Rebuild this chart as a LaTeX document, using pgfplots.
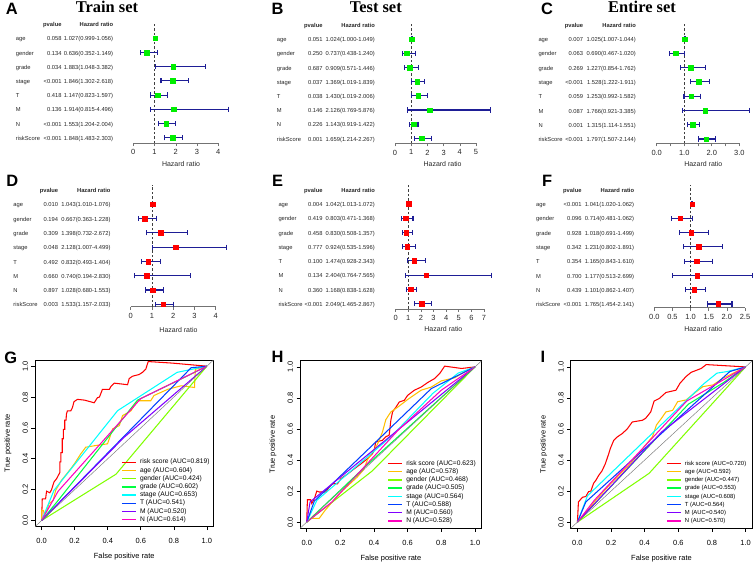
\documentclass[border=0pt]{standalone}
\usepackage{pgfplots}
\usepackage{pgfplotstable}
\pgfplotsset{compat=1.18}
\usepackage{fontspec}
\setmainfont{Liberation Sans}
\newfontfamily\serifbold{Liberation Serif}
\definecolor{rc1}{HTML}{FF0000}
\definecolor{rc2}{HTML}{FFBF00}
\definecolor{rc3}{HTML}{80FF00}
\definecolor{rc4}{HTML}{00FF40}
\definecolor{rc5}{HTML}{00FFFF}
\definecolor{rc6}{HTML}{0040FF}
\definecolor{rc7}{HTML}{8000FF}
\definecolor{rc8}{HTML}{FF00BF}
\definecolor{ciblue}{HTML}{1E1E96}
\definecolor{boxgreen}{HTML}{00EE00}
\definecolor{boxred}{HTML}{FF0000}

\pgfplotsset{
  legend image code/.code={\draw[#1, line width=1.4bp] (0bp,0bp) -- (14bp,0bp);},
  forest/.style={
    scale only axis, anchor=north west, clip=false,
    axis x line*=bottom, axis y line=none,
    x axis line style={-, draw=black!55, line width=0.6bp},
    tick align=outside, major tick length=3bp, minor tick length=3bp,
    tick style={draw=black!55, line width=0.6bp},
    xticklabel style={font=\fontsize{7.5}{8}\selectfont, text=black!85},
    ytick=\empty,
    xlabel={Hazard ratio},
    label style={font=\fontsize{7}{8}\selectfont, text=black!85},
  },
  roc/.style={
    scale only axis, anchor=north west,
    xmin=-0.04, xmax=1.04, ymin=-0.04, ymax=1.04,
    xtick={0,0.2,0.4,0.6,0.8,1}, xticklabels={0.0,0.2,0.4,0.6,0.8,1.0},
    ytick={0,0.2,0.4,0.6,0.8,1}, yticklabels={0.0,0.2,0.4,0.6,0.8,1.0},
    tick align=outside, xtick pos=left, ytick pos=left, major tick length=3.5bp,
    axis line style={line width=0.6bp}, tick style={line width=0.6bp, black},
    ticklabel style={font=\fontsize{7.5}{8}\selectfont},
    xticklabel style={yshift=-5bp},
    yticklabel style={rotate=90, anchor=south},
    xlabel={False positive rate}, ylabel={True positive rate},
    every axis x label/.style={at={(axis description cs:0.5,0)}, yshift=-30bp, anchor=center, font=\fontsize{7.5}{8}\selectfont},
    every axis y label/.style={at={(axis description cs:0,0.5)}, xshift=-27bp, rotate=90, anchor=center, font=\fontsize{7.5}{8}\selectfont},
    legend style={draw=none, fill=none, inner sep=0pt, anchor=north west, font=\fontsize{6.7}{7}\selectfont, nodes={inner sep=0pt, text height=5bp, text depth=1.5bp}, row sep=1.7bp, column sep=3.5bp},
    legend cell align=left,
    every axis plot/.append style={line width=1.05bp},
  },
}
\tikzset{
  tt/.style={font=\fontsize{5.8}{6}\selectfont, text=black!85, inner sep=0pt},
  hdr/.style={font=\fontsize{5.8}{6}\selectfont\bfseries, text=black!85, inner sep=0pt},
  plet/.style={font=\fontsize{16.5}{17}\selectfont\bfseries, inner sep=0pt},
  ptit/.style={font=\serifbold\fontsize{16.5}{17}\selectfont\bfseries, inner sep=0pt},
}
% #1 label left, #2 pvalue right, #3 HR right, #4 y of first row, #5 spacing, #6 list
\newcommand{\ftab}[6]{%
  \node[hdr, anchor=mid east] at ({#2bp},{-(#4-#5)*1bp}) {pvalue};
  \node[hdr, anchor=mid east] at ({#3bp},{-(#4-#5)*1bp}) {Hazard ratio};
  \foreach \lab/\pv/\hr [count=\i from 0] in {#6}{%
    \node[tt, anchor=mid west] at ({#1bp},{-(#4+\i*#5)*1bp}) {\lab};
    \node[tt, anchor=mid east] at ({#2bp},{-(#4+\i*#5)*1bp}) {\pv};
    \node[tt, anchor=mid east] at ({#3bp},{-(#4+\i*#5)*1bp}) {\hr};
  }%
}

\pgfplotstableread{
row hr lo hi
8 1.027 0.999 1.056
7 0.636 0.352 1.149
6 1.883 1.048 3.382
5 1.846 1.302 2.618
4 1.147 0.823 1.597
3 1.914 0.815 4.496
2 1.553 1.204 2.004
1 1.848 1.483 2.303
}\tabA
\pgfplotstableread{
row hr lo hi
8 1.024 1.000 1.049
7 0.737 0.438 1.240
6 0.909 0.571 1.446
5 1.369 1.019 1.839
4 1.430 1.019 2.006
3 2.126 0.769 5.876
2 1.143 0.919 1.422
1 1.659 1.214 2.267
}\tabB
\pgfplotstableread{
row hr lo hi
8 1.025 1.007 1.044
7 0.690 0.467 1.020
6 1.227 0.854 1.762
5 1.528 1.222 1.911
4 1.253 0.992 1.582
3 1.766 0.921 3.385
2 1.315 1.114 1.551
1 1.797 1.507 2.144
}\tabC
\pgfplotstableread{
row hr lo hi
8 1.043 1.010 1.076
7 0.667 0.363 1.228
6 1.398 0.732 2.672
5 2.128 1.007 4.499
4 0.832 0.493 1.404
3 0.740 0.194 2.830
2 1.028 0.680 1.553
1 1.533 1.157 2.033
}\tabD
\pgfplotstableread{
row hr lo hi
8 1.042 1.013 1.072
7 0.803 0.471 1.368
6 0.830 0.508 1.357
5 0.924 0.535 1.596
4 1.474 0.928 2.343
3 2.404 0.764 7.565
2 1.168 0.838 1.628
1 2.049 1.465 2.867
}\tabE
\pgfplotstableread{
row hr lo hi
8 1.041 1.020 1.062
7 0.714 0.481 1.062
6 1.018 0.691 1.499
5 1.231 0.802 1.891
4 1.165 0.843 1.610
3 1.177 0.513 2.699
2 1.101 0.862 1.407
1 1.765 1.454 2.141
}\tabF

\newcommand{\forestplots}[3]{% #1 table, #2 box colour, #3 dashed ymin/ymax
  \addplot[black!75, dash pattern=on 2.5bp off 2bp, line width=0.8bp, forget plot] coordinates {#3};
  \addplot[draw=none, forget plot, error bars/.cd, x dir=both, x explicit,
    error bar style={draw=ciblue, line width=1.1bp},
    error mark options={rotate=90, draw=ciblue, line width=1.1bp, mark size=2.6bp}]
    table[x=hr, y=row, x error plus expr=\thisrow{hi}-\thisrow{hr}, x error minus expr=\thisrow{hr}-\thisrow{lo}] {#1};
  \addplot[only marks, mark=square*, mark size=2.3bp, mark options={draw=#2, fill=#2}] table[x=hr, y=row] {#1};
}

\begin{document}
\begin{tikzpicture}
\path[use as bounding box] (0,0) rectangle (753bp,-562bp);

% ---------- letters and titles ----------
\node[plet] at (11.7bp,-9.2bp) {A};
\node[plet] at (277.5bp,-9.2bp) {B};
\node[plet] at (547bp,-9.2bp) {C};
\node[plet] at (12.2bp,-180.8bp) {D};
\node[plet] at (277.5bp,-180.8bp) {E};
\node[plet] at (547.2bp,-180.8bp) {F};
\node[plet] at (10.8bp,-357.5bp) {G};
\node[plet] at (277.5bp,-356.7bp) {H};
\node[plet] at (543bp,-356.7bp) {I};
\node[ptit] at (107bp,-7.2bp) {Train set};
\node[ptit] at (375.8bp,-7.2bp) {Test set};
\node[ptit] at (642bp,-7.2bp) {Entire set};

% ---------- tables ----------
\ftab{15.7}{61.7}{113.3}{38.3}{14.2}{age/0.058/1.027(0.999-1.056), gender/0.134/0.636(0.352-1.149), grade/0.034/1.883(1.048-3.382), stage/<0.001/1.846(1.302-2.618), T/0.418/1.147(0.823-1.597), M/0.136/1.914(0.815-4.496), N/<0.001/1.553(1.204-2.004), riskScore/<0.001/1.848(1.483-2.303)}
\ftab{276.7}{322.7}{375}{39}{14.2}{age/0.051/1.024(1.000-1.049), gender/0.250/0.737(0.438-1.240), grade/0.687/0.909(0.571-1.446), stage/0.037/1.369(1.019-1.839), T/0.038/1.430(1.019-2.006), M/0.146/2.126(0.769-5.876), N/0.226/1.143(0.919-1.422), riskScore/0.001/1.659(1.214-2.267)}
\ftab{538.3}{583.3}{636}{39}{14.29}{age/0.007/1.025(1.007-1.044), gender/0.063/0.690(0.467-1.020), grade/0.269/1.227(0.854-1.762), stage/<0.001/1.528(1.222-1.911), T/0.059/1.253(0.992-1.582), M/0.087/1.766(0.921-3.385), N/0.001/1.315(1.114-1.551), riskScore/<0.001/1.797(1.507-2.144)}
\ftab{13.3}{58.3}{110.7}{204.3}{14.29}{age/0.010/1.043(1.010-1.076), gender/0.194/0.667(0.363-1.228), grade/0.309/1.398(0.732-2.672), stage/0.048/2.128(1.007-4.499), T/0.492/0.832(0.493-1.404), M/0.660/0.740(0.194-2.830), N/0.897/1.028(0.680-1.553), riskScore/0.003/1.533(1.157-2.033)}
\ftab{278.3}{322.7}{375}{204}{14.24}{age/0.004/1.042(1.013-1.072), gender/0.419/0.803(0.471-1.368), grade/0.458/0.830(0.508-1.357), stage/0.777/0.924(0.535-1.596), T/0.100/1.474(0.928-2.343), M/0.134/2.404(0.764-7.565), N/0.360/1.168(0.838-1.628), riskScore/<0.001/2.049(1.465-2.867)}
\ftab{536}{581.7}{634.3}{204}{14.29}{age/<0.001/1.041(1.020-1.062), gender/0.096/0.714(0.481-1.062), grade/0.928/1.018(0.691-1.499), stage/0.342/1.231(0.802-1.891), T/0.354/1.165(0.843-1.610), M/0.700/1.177(0.513-2.699), N/0.439/1.101(0.862-1.407), riskScore/<0.001/1.765(1.454-2.141)}

% ---------- forest plots ----------
\begin{axis}[forest, at={(133.3bp,-23.25bp)}, width=85bp, height=120bp,
  xmin=0, xmax=4, ymin=0.606, ymax=9.06, xtick={0,1,2,3,4}, xticklabels={0,1,2,3,4},
  xlabel style={at={(axis description cs:0.562,0)}, anchor=center, yshift=-21bp}]
\forestplots{\tabA}{boxgreen}{(1,0.606) (1,9.06)}
\end{axis}
\begin{axis}[forest, at={(395bp,-23.4bp)}, width=81bp, height=119.9bp,
  xmin=0, xmax=5, ymin=0.655, ymax=9.1, xtick={0,1,2,3,4,5}, xticklabels={0,1,2,3,4,5},
  xlabel style={at={(axis description cs:0.588,0)}, anchor=center, yshift=-21bp}]
\forestplots{\tabB}{boxgreen}{(1,0.655) (1,9.1)}
\end{axis}
\begin{axis}[forest, at={(656.7bp,-23.28bp)}, width=82.6bp, height=120.05bp,
  xmin=0, xmax=3, ymin=0.699, ymax=9.1, xtick={0,1,2,3}, xticklabels={0.0,1.0,2.0,3.0},
  minor xtick={0.5,1.5,2.5},
  xlabel style={at={(axis description cs:0.564,0)}, anchor=center, yshift=-21bp}]
\forestplots{\tabC}{boxgreen}{(1,0.699) (1,9.1)}
\end{axis}
\begin{axis}[forest, at={(130.7bp,-185bp)}, width=85bp, height=121.7bp,
  xmin=0, xmax=4, ymin=0.832, ymax=9.35, xtick={0,1,2,3,4}, xticklabels={0,1,2,3,4},
  xlabel style={at={(axis description cs:0.562,0)}, anchor=center, yshift=-23.3bp}]
\forestplots{\tabD}{boxred}{(1,0.832) (1,9.35)}
\end{axis}
\begin{axis}[forest, at={(395.7bp,-183.3bp)}, width=88.3bp, height=125.6bp,
  xmin=0, xmax=7, ymin=0.628, ymax=9.45, xtick={0,1,2,3,4,5,6,7}, xticklabels={0,1,2,3,4,5,6,7},
  xlabel style={at={(axis description cs:0.540,0)}, anchor=center, yshift=-20.3bp}]
\forestplots{\tabE}{boxred}{(1,0.628) (1,9.45)}
\end{axis}
\begin{axis}[forest, at={(654.3bp,-185bp)}, width=90.7bp, height=122.7bp,
  xmin=0, xmax=2.5, ymin=0.741, ymax=9.33, xtick={0,0.5,1,1.5,2,2.5}, xticklabels={0.0,0.5,1.0,1.5,2.0,2.5},
  xlabel style={at={(axis description cs:0.540,0)}, anchor=center, yshift=-21.6bp}]
\forestplots{\tabF}{boxred}{(1,0.741) (1,9.33)}
\end{axis}

% ---------- ROC G ----------
\begin{axis}[roc, at={(35bp,-360bp)}, width=178.5bp, height=166.7bp,
  legend style={at={(axis cs:0.48,0.40)}}]
\addplot[rc1] coordinates {(0,0) (0.004,0.14) (0.024,0.14) (0.03,0.19) (0.05,0.18) (0.06,0.2) (0.075,0.25) (0.09,0.27) (0.1,0.29) (0.11,0.31) (0.11,0.38) (0.116,0.38) (0.116,0.44) (0.125,0.44) (0.125,0.53) (0.132,0.53) (0.132,0.59) (0.14,0.59) (0.14,0.65) (0.148,0.65) (0.15,0.69) (0.156,0.71) (0.176,0.71) (0.186,0.73) (0.196,0.77) (0.217,0.785) (0.26,0.78) (0.318,0.763) (0.338,0.796) (0.35,0.80) (0.368,0.85) (0.41,0.85) (0.42,0.87) (0.44,0.89) (0.52,0.88) (0.53,0.92) (0.55,0.935) (0.59,0.946) (0.61,0.96) (0.63,0.98) (0.645,1.03) (0.79,1.02) (1,1)};
\addlegendentry{risk score (AUC=0.819)}
\addplot[rc2] coordinates {(0,0) (0,0.065) (0.012,0.065) (0.014,0.045) (0.03,0.06) (0.045,0.11) (0.07,0.13) (0.085,0.196) (0.12,0.26) (0.15,0.3) (0.176,0.335) (0.2,0.37) (0.237,0.432) (0.267,0.475) (0.328,0.486) (0.399,0.497) (0.43,0.594) (0.47,0.615) (0.49,0.68) (0.54,0.71) (0.58,0.776) (0.66,0.776) (0.68,0.81) (0.763,0.85) (0.844,0.873) (0.925,0.862) (0.93,0.98) (1,1)};
\addlegendentry{age (AUC=0.604)}
\addplot[rc3] coordinates {(0,0) (0.45,0.30) (1,1)};
\addlegendentry{gender (AUC=0.424)}
\addplot[rc4] coordinates {(0,0) (0.1,0.13) (0.58,0.78) (0.85,0.92) (1,1)};
\addlegendentry{grade (AUC=0.602)}
\addplot[rc5] coordinates {(0,0) (0.075,0.196) (0.46,0.712) (0.82,0.96) (1,1)};
\addlegendentry{stage (AUC=0.653)}
\addplot[rc6] coordinates {(0,0) (0.905,0.99) (1,1)};
\addlegendentry{T (AUC=0.541)}
\addplot[rc7] coordinates {(0,0) (0.5,0.54) (1,1)};
\addlegendentry{M (AUC=0.520)}
\addplot[rc8] coordinates {(0,0) (0.1,0.19) (0.6,0.79) (1,1)};
\addlegendentry{N (AUC=0.614)}
\addplot[forget plot, black!50, line width=0.5bp] coordinates {(-0.04,-0.04) (1.04,1.04)};
\end{axis}

% ---------- ROC H ----------
\begin{axis}[roc, at={(300bp,-360.7bp)}, width=181.7bp, height=167.6bp,
  legend style={at={(axis cs:0.478,0.40)}}]
\addplot[rc1] coordinates {(0,0) (0.004,0.144) (0.024,0.144) (0.03,0.12) (0.045,0.15) (0.06,0.2) (0.074,0.194) (0.114,0.194) (0.13,0.22) (0.153,0.247) (0.183,0.247) (0.203,0.28) (0.243,0.31) (0.283,0.344) (0.323,0.376) (0.363,0.41) (0.39,0.44) (0.40,0.46) (0.41,0.516) (0.45,0.527) (0.47,0.55) (0.49,0.56) (0.50,0.656) (0.51,0.71) (0.53,0.74) (0.55,0.774) (0.58,0.785) (0.60,0.817) (0.64,0.85) (0.68,0.87) (0.72,0.90) (0.76,0.925) (0.79,0.957) (0.82,1.005) (0.92,0.99) (1,1)};
\addlegendentry{risk score (AUC=0.623)}
\addplot[rc2] coordinates {(0,0) (0.024,0.024) (0.074,0.024) (0.11,0.077) (0.2,0.19) (0.3,0.29) (0.34,0.34) (0.36,0.40) (0.42,0.5) (0.45,0.58) (0.47,0.66) (0.50,0.71) (0.54,0.74) (0.6,0.79) (0.68,0.85) (0.74,0.87) (0.80,0.91) (0.88,0.93) (0.94,0.97) (1,1)};
\addlegendentry{age (AUC=0.578)}
\addplot[rc3] coordinates {(0,0) (0.39,0.33) (1,1)};
\addlegendentry{gender (AUC=0.468)}
\addplot[rc4] coordinates {(0,0) (0.35,0.36) (1,1)};
\addlegendentry{grade (AUC=0.505)}
\addplot[rc5] coordinates {(0,0) (0.06,0.14) (0.5,0.55) (0.75,0.83) (0.9,0.96) (1,1)};
\addlegendentry{stage (AUC=0.564)}
\addplot[rc6] coordinates {(0,0) (0.045,0.135) (0.74,0.86) (1,1)};
\addlegendentry{T (AUC=0.588)}
\addplot[rc7] coordinates {(0,0) (0.02,0.13) (1,1)};
\addlegendentry{M (AUC=0.560)}
\addplot[rc8] coordinates {(0,0) (0.15,0.13) (0.55,0.6) (0.8,0.85) (1,1)};
\addlegendentry{N (AUC=0.528)}
\addplot[forget plot, black!50, line width=0.5bp] coordinates {(-0.04,-0.04) (1.04,1.04)};
\end{axis}

% ---------- ROC I ----------
\begin{axis}[roc, at={(570.7bp,-360.7bp)}, width=181.6bp, height=167.6bp,
  legend style={at={(axis cs:0.526,0.40)}, font=\fontsize{5.9}{6}\selectfont}]
\addplot[rc1] coordinates {(0,0) (0.006,0.13) (0.03,0.16) (0.05,0.165) (0.066,0.196) (0.08,0.2) (0.096,0.25) (0.11,0.27) (0.126,0.30) (0.146,0.33) (0.166,0.376) (0.186,0.44) (0.196,0.475) (0.216,0.527) (0.236,0.548) (0.266,0.57) (0.296,0.60) (0.326,0.645) (0.386,0.656) (0.406,0.669) (0.436,0.71) (0.456,0.78) (0.486,0.796) (0.526,0.835) (0.586,0.85) (0.61,0.895) (0.646,0.938) (0.676,0.965) (0.736,0.99) (0.766,1.015) (1,1)};
\addlegendentry{risk score (AUC=0.720)}
\addplot[rc2] coordinates {(0,0) (0.05,0.06) (0.1,0.13) (0.2,0.25) (0.3,0.36) (0.366,0.44) (0.40,0.49) (0.446,0.55) (0.47,0.626) (0.5,0.669) (0.526,0.71) (0.566,0.72) (0.596,0.776) (0.646,0.787) (0.706,0.84) (0.746,0.873) (0.806,0.884) (0.866,0.927) (1,1)};
\addlegendentry{age (AUC=0.592)}
\addplot[rc3] coordinates {(0,0) (0.426,0.314) (1,1)};
\addlegendentry{gender (AUC=0.447)}
\addplot[rc4] coordinates {(0,0) (0.66,0.76) (0.87,0.9) (1,1)};
\addlegendentry{grade (AUC=0.553)}
\addplot[rc5] coordinates {(0,0) (0.06,0.17) (0.75,0.89) (0.83,0.96) (0.89,0.97) (1,1)};
\addlegendentry{stage (AUC=0.608)}
\addplot[rc6] coordinates {(0,0) (0.05,0.13) (0.906,0.97) (1,1)};
\addlegendentry{T (AUC=0.564)}
\addplot[rc7] coordinates {(0,0) (0.5,0.58) (1,1)};
\addlegendentry{M (AUC=0.540)}
\addplot[rc8] coordinates {(0,0) (0.1,0.14) (0.65,0.78) (1,1)};
\addlegendentry{N (AUC=0.570)}
\addplot[forget plot, black!50, line width=0.5bp] coordinates {(-0.04,-0.04) (1.04,1.04)};
\end{axis}
\end{tikzpicture}
\end{document}
